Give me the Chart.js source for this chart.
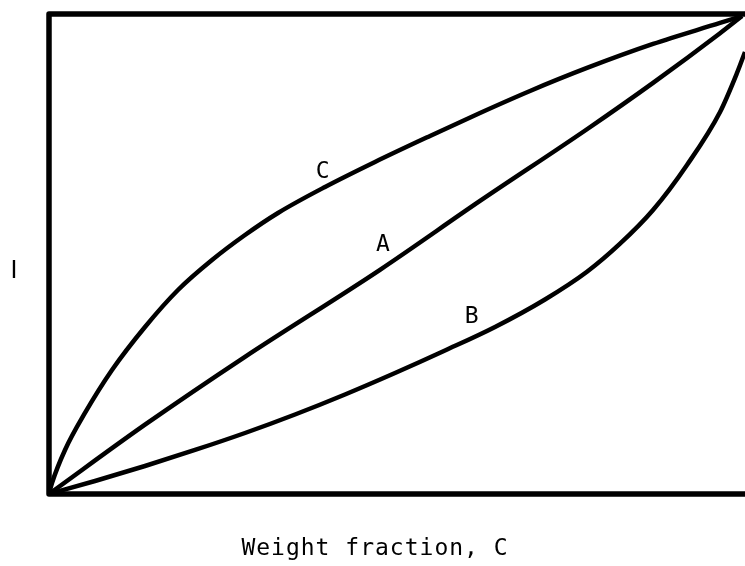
<!DOCTYPE html>
<html>
<head>
<meta charset="utf-8">
<script src="https://cdn.jsdelivr.net/npm/chart.js@4.4.1/dist/chart.umd.min.js"></script>
<style>
  html, body { margin: 0; padding: 0; background: #fff; }
  #wrap { width: 745px; height: 566px; }
</style>
</head>
<body>
<div id="wrap"><canvas id="chart"></canvas></div>
<script>
// curve C (concave)
const curveCx = [0, 0.0043, 0.0231, 0.0519, 0.0909, 0.1385, 0.1861, 0.2352, 0.2828, 0.3304, 0.3983, 0.4704, 0.5498, 0.6219, 0.6941, 0.7763, 0.8716, 0.9683, 1.0];
const curveCy = [0, 0.0230, 0.0921, 0.1695, 0.2594, 0.3494, 0.4268, 0.4895, 0.5418, 0.5879, 0.6423, 0.6946, 0.7490, 0.7971, 0.8431, 0.8912, 0.9414, 0.9854, 1.0];

// curve A (almost straight)
const curveAx = [0, 0.1385, 0.2828, 0.4776, 0.6219, 0.7763, 0.8716, 0.9683, 1.0];
const curveAy = [0, 0.145, 0.287, 0.469, 0.613, 0.763, 0.860, 0.964, 1.0];

// curve B (convex)
const curveBx = [0, 0.0664, 0.1385, 0.2107, 0.2828, 0.3550, 0.4271, 0.4993, 0.5714, 0.6436, 0.7157, 0.7763, 0.8240, 0.8716, 0.9206, 0.9683, 0.9928, 1.0043];
const curveBy = [0, 0.0272, 0.0586, 0.0921, 0.1276, 0.1663, 0.2082, 0.2531, 0.3002, 0.3494, 0.4069, 0.4649, 0.5236, 0.5941, 0.6883, 0.7992, 0.8808, 0.9247];

// labels written next to the curves
const curveNames = ['C', 'A', 'B'];
const nameX = [0.395, 0.482, 0.610];
const nameY = [0.674, 0.521, 0.370];

const xTitle = 'Weight fraction, C';
const yTitle = 'I';

function toPoints(xs, ys) {
    return xs.map((x, i) => ({ x: x, y: ys[i] }));
}

const font = '"DejaVu Sans Mono", monospace';

// cadre + textes
const decoPlugin = {
    id: 'deco',
    beforeDatasetsDraw(chart) {
        const { ctx, chartArea } = chart;
        ctx.save();
        ctx.strokeStyle = '#000';
        ctx.lineWidth = 5.5;
        ctx.lineJoin = 'round';
        ctx.beginPath();
        ctx.moveTo(chartArea.right + 10, chartArea.top - 1);
        ctx.lineTo(chartArea.left, chartArea.top - 1);
        ctx.lineTo(chartArea.left, chartArea.bottom);
        ctx.lineTo(chartArea.right + 10, chartArea.bottom);
        ctx.stroke();
        ctx.restore();
    },
    afterDraw(chart) {
        const { ctx, chartArea, scales } = chart;
        ctx.save();
        ctx.fillStyle = '#000';
        ctx.textAlign = 'center';
        ctx.textBaseline = 'middle';
        ctx.font = '23px ' + font;
        curveNames.forEach((n, i) => {
            ctx.fillText(n, scales.x.getPixelForValue(nameX[i]), scales.y.getPixelForValue(nameY[i]));
        });
        ctx.letterSpacing = '1px';
        ctx.fillText(xTitle, 375, chartArea.bottom + 55);
        ctx.letterSpacing = '0px';
        ctx.font = '25px "Liberation Sans", sans-serif';
        ctx.fillText(yTitle, 14, 271);
        ctx.restore();
    }
};

const lineStyle = {
    borderColor: '#000',
    borderWidth: 4.5,
    pointRadius: 0,
    showLine: true,
    fill: false,
    cubicInterpolationMode: 'monotone'
};

new Chart(document.getElementById('chart'), {
    type: 'scatter',
    data: {
        datasets: [
            Object.assign({ label: 'C', data: toPoints(curveCx, curveCy) }, lineStyle),
            Object.assign({ label: 'A', data: toPoints(curveAx, curveAy) }, lineStyle),
            Object.assign({ label: 'B', data: toPoints(curveBx, curveBy) }, lineStyle)
        ]
    },
    options: {
        responsive: true,
        maintainAspectRatio: false,
        animation: false,
        layout: { padding: { left: 49, top: 15, right: 0, bottom: 72 } },
        plugins: {
            legend: { display: false },
            tooltip: { enabled: false }
        },
        scales: {
            x: { type: 'linear', min: 0, max: 1.0043, display: false },
            y: { type: 'linear', min: 0, max: 1.002, display: false }
        }
    },
    plugins: [decoPlugin]
});
</script>
</body>
</html>
